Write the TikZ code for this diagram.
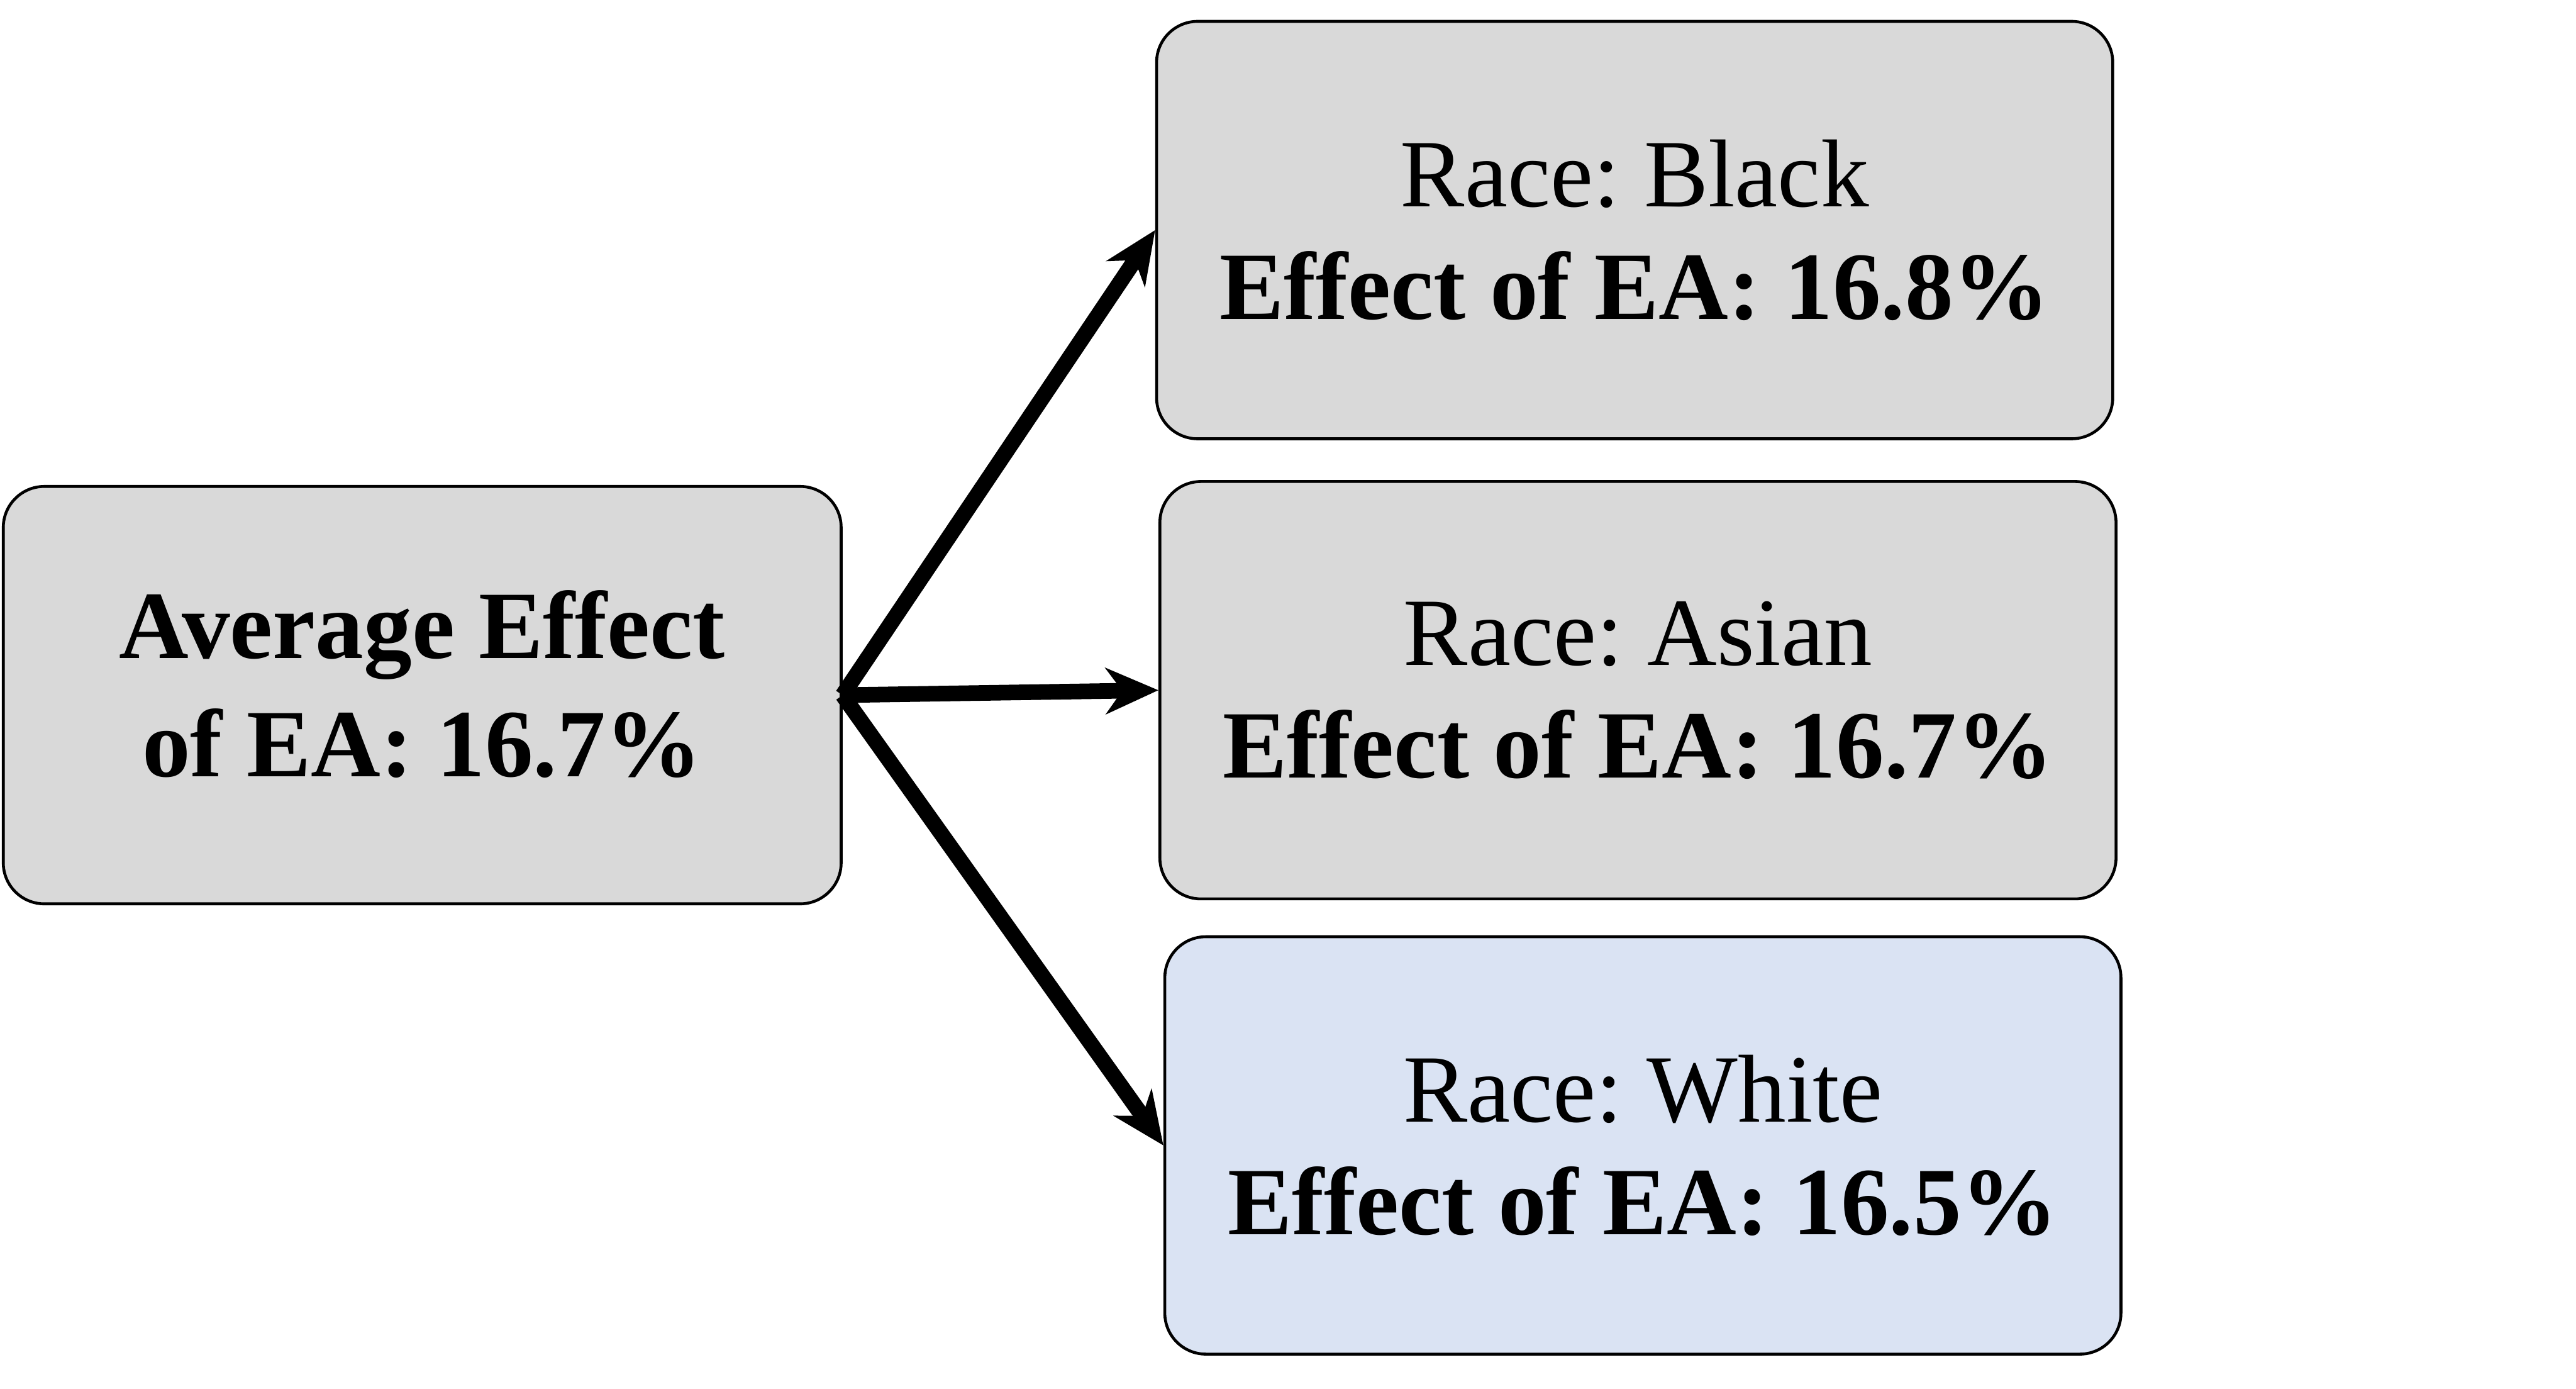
\documentclass[tikz,border=0pt]{standalone}
\usepackage{fontspec}
\setmainfont{Liberation Serif}
\frenchspacing
\usetikzlibrary{arrows.meta}
\definecolor{boxgray}{HTML}{D9D9D9}
\definecolor{boxblue}{HTML}{DAE3F3}
\tikzset{
  box/.style={draw=black, line width=0.5pt, rounded corners=0.25cm, fill=boxgray,
    minimum width=5.82cm, minimum height=2.54cm, align=center, inner sep=0pt,
    font=\fontsize{16.7}{19.5}\selectfont},
  arr/.style={line width=2.7pt, -{Stealth[length=0.32cm, width=0.28cm, inset=0.10cm]}}
}
\begin{document}
\begin{tikzpicture}
\useasboundingbox (0,0) rectangle (15.68,-8.45);
\node[box, minimum width=5.10cm] (avg) at (2.57,-4.23)
  {\raisebox{0.09cm}{\begin{tabular}{@{}c@{}}\textbf{Average Effect}\\[1pt]\textbf{of EA: 16.7\%}\end{tabular}}};
\node[box] (black) at (9.95,-1.40) {Race: Black\\\textbf{Effect of EA: 16.8\%}};
\node[box] (asian) at (9.97,-4.20) {Race: Asian\\\textbf{Effect of EA: 16.7\%}};
\node[box, fill=boxblue] (white) at (10.00,-6.97) {Race: White\\\textbf{Effect of EA: 16.5\%}};
\draw[arr] (avg.east) -- (black.west);
\draw[arr] (avg.east) -- (asian.west);
\draw[arr] (avg.east) -- (white.west);
\end{tikzpicture}
\end{document}
